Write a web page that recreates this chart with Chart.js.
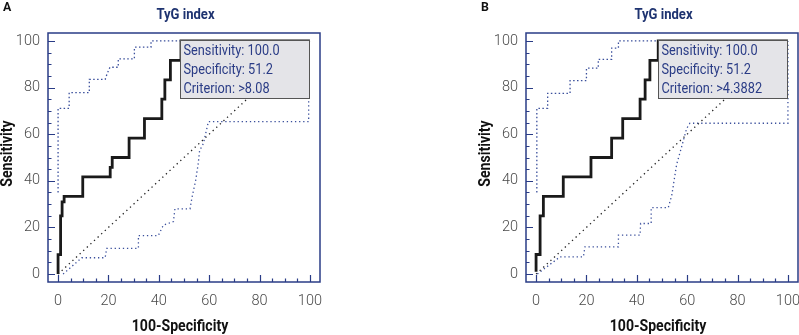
<!DOCTYPE html>
<html>
<head>
<meta charset="utf-8">
<script src="https://cdn.jsdelivr.net/npm/chart.js@4.4.0/dist/chart.umd.min.js"></script>
<style>
  html, body { margin: 0; padding: 0; background: #fff; overflow: hidden; width: 799px; height: 335px; }
  .panel { position: absolute; top: 0; width: 400px; height: 335px; }
  #panelA { left: 0; }
  #panelB { left: 478px; }
</style>
</head>
<body>
<div class="panel" id="panelA"><canvas id="chartA" width="400" height="335"></canvas></div>
<div class="panel" id="panelB"><canvas id="chartB" width="400" height="335"></canvas></div>
<script>
// axis ticks
const xMajorTicks = [0, 20, 40, 60, 80, 100];
const yMajorTicks = [0, 20, 40, 60, 80, 100];
const minorTicks = [0, 5, 10, 15, 20, 25, 30, 35, 40, 45, 50, 55, 60, 65, 70, 75, 80, 85, 90, 95, 100];

// chance line
const diagX = [0, 100];
const diagY = [0, 100];

// panel A: ROC curve + 95% CI bounds
const rocAX = [0, 0, 1, 1, 1.6, 1.6, 2.4, 2.4, 9.8, 9.8, 20.7, 20.7, 21.5, 21.5, 28.2, 28.2, 34.3, 34.3, 41.2, 41.2, 42.4, 42.4, 44.6, 44.6, 48.8, 48.8, 100];
const rocAY = [0, 8.3, 8.3, 25, 25, 31, 31, 33.3, 33.3, 41.7, 41.7, 45.8, 45.8, 50, 50, 58.3, 58.3, 66.7, 66.7, 75, 75, 83.3, 83.3, 91.7, 91.7, 100, 100];
const upperAX = [0, 0, 4.4, 4.4, 12.4, 12.4, 18.7, 19.5, 20.6, 23.9, 23.9, 30.3, 30.3, 36.9, 36.9, 100];
const upperAY = [35, 71.1, 71.1, 77.8, 77.8, 83.5, 83.5, 86, 88.7, 88.7, 92.3, 92.3, 97.3, 97.3, 100, 100];
const lowerAX = [2, 9.4, 18.7, 19.3, 31.9, 31.9, 39.8, 41.8, 45.8, 46.4, 52.4, 53.2, 54.6, 55.6, 56.2, 57.7, 59.7, 99.5, 99.5];
const lowerAY = [0, 7, 7, 11, 11, 16.5, 16.5, 21, 22.5, 28, 28, 33, 40, 47, 53, 56, 65.4, 65.4, 100];
const statsA = ["Sensitivity: 100.0", "Specificity: 51.2", "Criterion: >8.08"];

// panel B
const rocBX = [0, 0, 1.6, 1.6, 2.9, 2.9, 10.8, 10.8, 21.8, 21.8, 30, 30, 34.4, 34.4, 41.3, 41.3, 43.3, 43.3, 45.2, 45.2, 48.5, 48.5, 100];
const rocBY = [1, 8.4, 8.4, 25, 25, 33.3, 33.3, 41.7, 41.7, 50, 50, 58.3, 58.3, 66.7, 66.7, 75, 75, 83.3, 83.3, 91.7, 91.7, 100, 100];
const upperBX = [0.3, 0.3, 4.6, 4.6, 13.5, 13.5, 20, 20, 24.7, 24.7, 30, 30, 32.7, 32.7, 100];
const upperBY = [35, 71.1, 71.1, 77.5, 77.5, 83, 83, 88.3, 88.3, 92.1, 92.1, 96.9, 96.9, 100, 100];
const lowerBX = [0.5, 9.5, 18.8, 19.4, 32.7, 32.7, 41.3, 41.5, 45.7, 45.7, 52.5, 53.9, 55.8, 57.8, 59.8, 61.1, 100, 100];
const lowerBY = [0, 7.4, 7.4, 11.7, 11.7, 16.7, 16.7, 21.7, 21.7, 28.5, 28.5, 33.9, 47, 54.6, 62.5, 64.7, 64.7, 100];
const statsB = ["Sensitivity: 100.0", "Specificity: 51.2", "Criterion: >4.3882"];

const NAVY = "#2a3c86";
const FONT = "Roboto, 'Liberation Sans', sans-serif";

const pts = (xs, ys) => xs.map((x, i) => ({ x, y: ys[i] }));

// text squeezed horizontally to mimic the condensed face of the original
function squeezed(ctx, text, x, y, font, color, sx, align, rot) {
    ctx.save();
    ctx.translate(x, y);
    if (rot) ctx.rotate(rot);
    ctx.scale(sx, 1);
    ctx.font = font;
    ctx.fillStyle = color;
    ctx.textAlign = align;
    ctx.textBaseline = "middle";
    ctx.fillText(text, 0, 0);
    ctx.restore();
}

// frame, inward ticks, titles, panel letter and the criterion box
const panelDecor = {
    id: "panelDecor",
    afterDatasetsDraw(chart, args, opts) {
        const { ctx, chartArea: a, scales: { x, y } } = chart;
        ctx.save();
        ctx.strokeStyle = NAVY;
        ctx.lineWidth = 1.5;
        ctx.strokeRect(a.left, a.top, a.right - a.left, a.bottom - a.top);
        ctx.lineWidth = 1.2;
        ctx.beginPath();
        minorTicks.forEach((v) => {
            const px = Math.round(x.getPixelForValue(v)) + 0.5;
            ctx.moveTo(px, a.bottom);
            ctx.lineTo(px, a.bottom - (xMajorTicks.includes(v) ? 7 : 3.5));
            const py = Math.round(y.getPixelForValue(v)) + 0.5;
            ctx.moveTo(a.left, py);
            ctx.lineTo(a.left + (yMajorTicks.includes(v) ? 7 : 3.5), py);
        });
        ctx.stroke();

        // stats box
        const bx1 = x.getPixelForValue(48.6), bx2 = x.getPixelForValue(100);
        const by1 = y.getPixelForValue(100.2), by2 = y.getPixelForValue(75.3);
        ctx.fillStyle = "#e4e4e8";
        ctx.fillRect(bx1, by1, bx2 - bx1, by2 - by1);
        ctx.strokeStyle = "#555";
        ctx.lineWidth = 1;
        ctx.strokeRect(Math.round(bx1) + 0.5, Math.round(by1) + 0.5, Math.round(bx2 - bx1), Math.round(by2 - by1));
        ctx.restore();
        opts.stats.forEach((t, i) =>
            squeezed(ctx, t, bx1 + 3, by1 + 10.5 + i * 19, "14.5px " + FONT, NAVY, 0.88, "left"));

        // chart title, axis titles and panel letter
        const cx = (a.left + a.right) / 2;
        squeezed(ctx, "TyG index", cx + 1.5, 15, "bold 14.5px " + FONT, "#1e3370", 0.9, "center");
        squeezed(ctx, "100-Specificity", cx - 4, 327, "bold 16px " + FONT, "#111", 0.88, "center");
        squeezed(ctx, "Sensitivity", 7.5, (a.top + a.bottom) / 2 - 4, "bold 16px " + FONT, "#111", 0.88, "center", -Math.PI / 2);
        squeezed(ctx, opts.letter, 3, 8, "bold 13px " + FONT, "#111", 0.95, "left");
    }
};

function makePanel(canvasId, letter, roc, upper, lower, stats) {
    const dotted = (data, color, dash) => ({
        data, borderColor: color, borderWidth: 1.3, borderDash: dash,
        showLine: true, pointRadius: 0, fill: false, tension: 0
    });
    return new Chart(document.getElementById(canvasId), {
        type: "scatter",
        data: {
            datasets: [
                dotted(pts(diagX, diagY), "#222", [1.3, 3.6]),
                dotted(upper, "#3a4f9c", [1.5, 2.4]),
                dotted(lower, "#3a4f9c", [1.3, 2.8]),
                { data: roc, borderColor: "#1a1a1a", borderWidth: 2.8, showLine: true, pointRadius: 0, fill: false, tension: 0 }
            ]
        },
        options: {
            responsive: false,
            animation: false,
            devicePixelRatio: 1,
            layout: { padding: { top: 33, right: 80, left: 0, bottom: 0 } },
            plugins: {
                legend: { display: false },
                tooltip: { enabled: false },
                panelDecor: { letter, stats }
            },
            scales: {
                x: {
                    type: "linear", min: -4, max: 104,
                    afterBuildTicks: (s) => { s.ticks = xMajorTicks.map((v) => ({ value: v })); },
                    afterFit: (s) => { s.height = 53; },
                    grid: { display: false, drawTicks: false },
                    border: { display: false },
                    ticks: { color: "#4a4a4a", font: { family: FONT, size: 14.5, weight: "300" }, padding: 11, maxRotation: 0 }
                },
                y: {
                    type: "linear", min: -3.4, max: 103.4,
                    afterBuildTicks: (s) => { s.ticks = yMajorTicks.map((v) => ({ value: v })); },
                    afterFit: (s) => { s.width = 48; },
                    grid: { display: false, drawTicks: false },
                    border: { display: false },
                    ticks: { color: "#4a4a4a", font: { family: FONT, size: 14.5, weight: "300" }, padding: 8 }
                }
            }
        },
        plugins: [panelDecor]
    });
}

makePanel("chartA", "A", pts(rocAX, rocAY), pts(upperAX, upperAY), pts(lowerAX, lowerAY), statsA);
makePanel("chartB", "B", pts(rocBX, rocBY), pts(upperBX, upperBY), pts(lowerBX, lowerBY), statsB);
</script>
</body>
</html>
